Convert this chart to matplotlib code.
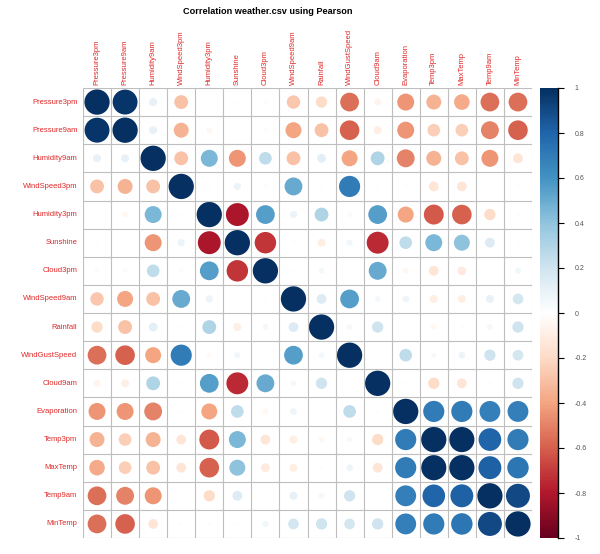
import numpy as np
import matplotlib.pyplot as plt
from matplotlib.colors import LinearSegmentedColormap
from matplotlib.patches import Circle
from matplotlib.cm import ScalarMappable
from matplotlib.colors import Normalize

plt.rcParams['font.family'] = ['Liberation Sans', 'DejaVu Sans']

# nazwy zmiennych
names = ['Pressure3pm', 'Pressure9am', 'Humidity9am', 'WindSpeed3pm', 'Humidity3pm',
         'Sunshine', 'Cloud3pm', 'WindSpeed9am', 'Rainfall', 'WindGustSpeed',
         'Cloud9am', 'Evaporation', 'Temp3pm', 'MaxTemp', 'Temp9am', 'MinTemp']

# gorny trojkat macierzy korelacji, wiersz i -> kolumny i+1..15
upper = [
    [0.97, 0.10, -0.30, -0.01, -0.02, -0.03, -0.28, -0.20, -0.55, -0.07, -0.45, -0.35, -0.38, -0.55, -0.55],
    [0.10, -0.35, -0.05, 0.00, -0.03, -0.40, -0.30, -0.60, -0.10, -0.45, -0.25, -0.25, -0.50, -0.60],
    [-0.30, 0.45, -0.45, 0.25, -0.30, 0.12, -0.40, 0.30, -0.50, -0.35, -0.30, -0.45, -0.15],
    [-0.02, 0.08, -0.03, 0.50, -0.02, 0.70, -0.02, -0.02, -0.15, -0.15, 0.00, -0.02],
    [-0.82, 0.55, 0.08, 0.30, -0.04, 0.55, -0.40, -0.62, -0.60, -0.20, -0.02],
    [-0.72, -0.02, -0.10, 0.06, -0.75, 0.25, 0.45, 0.40, 0.15, -0.02],
    [-0.02, 0.05, 0.00, 0.50, -0.05, -0.15, -0.12, 0.00, 0.06],
    [0.15, 0.55, 0.05, 0.07, -0.10, -0.10, 0.10, 0.18],
    [0.05, 0.20, 0.00, -0.05, -0.02, 0.05, 0.20],
    [0.00, 0.25, 0.04, 0.07, 0.20, 0.18],
    [-0.02, -0.20, -0.15, -0.02, 0.20],
    [0.70, 0.70, 0.68, 0.68],
    [0.99, 0.80, 0.70],
    [0.82, 0.72],
    [0.90],
]

n = len(names)
corr = np.eye(n)
for i, row in enumerate(upper):
    for k, v in enumerate(row):
        corr[i, i + 1 + k] = v
        corr[i + 1 + k, i] = v

cols = ["#67001F", "#B2182B", "#D6604D", "#F4A582", "#FDDBC7", "#FFFFFF",
        "#D1E5F0", "#92C5DE", "#4393C3", "#2166AC", "#053061"]
cmap = LinearSegmentedColormap.from_list('corrRdBu', cols, N=200)
norm = Normalize(-1, 1)

W, H = 600, 554
fig = plt.figure(figsize=(6, 5.54), dpi=100)
ax = fig.add_axes([83 / W, 1 - 538 / H, 449 / W, 450 / H])
ax.set_xlim(-0.5, n - 0.5)
ax.set_ylim(n - 0.5, -0.5)
ax.axis('off')

for i in range(n):
    for j in range(n):
        r = corr[i, j]
        ax.add_patch(Circle((j, i), 0.45 * np.sqrt(abs(r)), facecolor=cmap(norm(r)),
                            edgecolor='none'))

for k in range(n + 1):
    ax.plot([k - 0.5, k - 0.5], [-0.5, n - 0.5], color='#BEBEBE', lw=0.8)
    ax.plot([-0.5, n - 0.5], [k - 0.5, k - 0.5], color='#BEBEBE', lw=0.8)

lab_col = '#e02828'
for i, nm in enumerate(names):
    ax.text(-0.7, i, nm, ha='right', va='center', fontsize=5.5, color=lab_col)
    ax.text(i, -0.62, nm, ha='center', va='bottom', rotation=90, fontsize=5.5, color=lab_col)

fig.text(268 / W, 1 - 11 / H, 'Correlation weather.csv using Pearson', ha='center',
         va='center', fontsize=6.6, fontweight='bold')

# legenda kolorow
cax = fig.add_axes([540 / W, 1 - 538 / H, 18 / W, 450 / H])
cb = fig.colorbar(ScalarMappable(norm=norm, cmap=cmap), cax=cax)
cb.outline.set_visible(False)
cb.set_ticks(np.round(np.arange(-1, 1.01, 0.2), 1))
cb.set_ticklabels(['-1', '-0.8', '-0.6', '-0.4', '-0.2', '0', '0.2', '0.4', '0.6', '0.8', '1'])
cax.plot([1, 1], [0, 1], transform=cax.transAxes, color='black', lw=1, clip_on=False)
cax.tick_params(length=4, width=0.8, color='black', labelsize=5, labelcolor='#555555', pad=8)

fig.savefig('out.png', dpi=100)
